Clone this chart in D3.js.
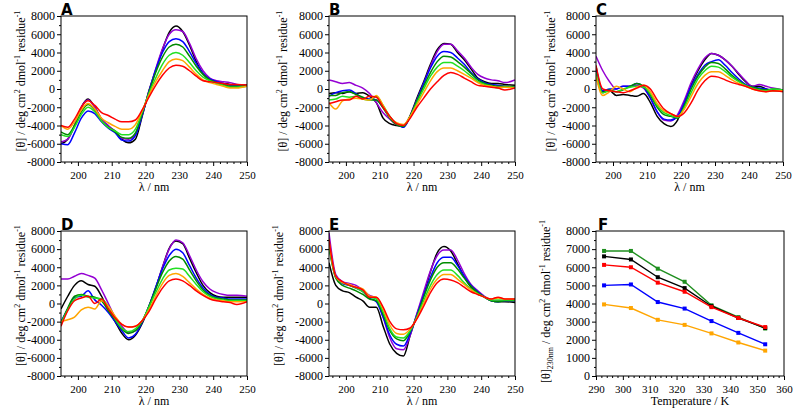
<!DOCTYPE html>
<html><head><meta charset="utf-8">
<script src="https://cdn.jsdelivr.net/npm/d3@7"></script>
<style>
body{margin:0;background:#fff}
svg{display:block}
text{font-family:"Liberation Serif","DejaVu Serif",serif;fill:#000}
text.plabel{font-family:"DejaVu Sans","Liberation Sans",sans-serif;font-weight:bold}
</style>
</head><body>
<svg id="chart" width="800" height="412"></svg>
<script>
// ---------- DATA ----------
const wavelengths = [195,197,199,201,203,205,207,209,211,213,215,217,219,221,223,225,227,229,231,233,235,237,239,241,243,245,247,250];
const temperatures = [293,303,313,323,333,343,353];
const tempColors = ["#000000","#9400d3","#0000ff","#008b00","#22e022","#ffa500","#ff0000"];

// Panel A
const A293 = [-6000,-5500,-4000,-2000,-1100,-2000,-3300,-4100,-4600,-5500,-5900,-5500,-3000,-200,2000,4300,6200,6900,6300,4800,3000,1700,1000,700,600,500,450,400];
const A303 = [-5800,-5500,-4000,-2000,-1200,-2000,-3300,-4000,-4700,-5400,-5500,-5000,-2800,-300,2200,4400,6000,6500,6300,5000,3300,2000,1200,900,800,700,500,400];
const A313 = [-6000,-6100,-4800,-3200,-2400,-2700,-3600,-4300,-4800,-5600,-5700,-5100,-2900,-300,2100,4000,5200,5500,5200,4100,2800,1700,1100,800,600,400,400,400];
const A323 = [-4700,-5000,-4000,-2500,-1700,-2300,-3500,-4200,-4700,-5300,-5400,-4800,-2700,-400,1800,3500,4600,4900,4600,3600,2500,1600,1000,700,500,300,300,400];
const A333 = [-5000,-5200,-4200,-2800,-2000,-2500,-3500,-4200,-4600,-5000,-5000,-4400,-2500,-500,1200,2700,3700,4000,3700,2900,2000,1300,900,600,400,200,200,300];
const A343 = [-4000,-4400,-3600,-2300,-1600,-2200,-3200,-3700,-4100,-4400,-4400,-3900,-2400,-700,800,2000,3000,3300,3100,2400,1600,1000,700,500,300,100,100,300];
const A353 = [-4000,-4200,-3300,-2000,-1300,-1800,-2600,-2900,-3300,-3600,-3600,-3400,-2300,-900,400,1500,2300,2600,2500,2000,1400,900,800,700,600,500,500,450];

// Panel B
const B293 = [-500,-400,-500,-300,-500,-400,-800,-1500,-3200,-3800,-4000,-4100,-2900,-1000,800,2700,4300,5000,4900,4000,3200,2200,1200,800,600,600,500,400];
const B303 = [1000,800,600,700,400,100,-500,-1500,-2600,-3300,-3900,-4000,-3000,-1200,600,2500,4100,4900,4900,4200,3400,2400,1600,1200,1000,900,700,1000];
const B313 = [-800,-400,-200,-100,-500,-1000,-1100,-1200,-2000,-3100,-3800,-4200,-3000,-1200,600,2300,3600,4100,4000,3400,2700,1800,1100,700,500,400,300,200];
const B323 = [-700,-700,-400,-300,-600,-900,-1200,-1200,-2100,-3200,-3900,-4100,-3000,-1300,300,1800,3000,3600,3500,3000,2400,1700,1000,600,400,300,300,200];
const B333 = [-1200,-1100,-800,-900,-800,-1100,-1200,-800,-1800,-3000,-3800,-4000,-3000,-1500,0,1400,2400,2900,2900,2500,2000,1400,800,500,300,100,200,200];
const B343 = [-1500,-2200,-1300,-1100,-1000,-1100,-1200,-700,-1800,-3100,-3700,-3900,-3000,-1700,-400,900,1900,2300,2300,2000,1600,1200,700,400,300,200,200,100];
const B353 = [-1600,-1400,-1200,-1200,-800,-1100,-800,-900,-2000,-3000,-3800,-4000,-3200,-2000,-1000,0,800,1500,1800,1600,1200,800,400,300,200,100,-100,100];

// Panel C
const C293 = [2500,-300,-200,-700,-600,-700,-800,-500,-1500,-3000,-3800,-4100,-3400,-1500,500,2000,3200,3900,3700,3200,2500,1600,800,300,300,0,-200,-200];
const C303 = [3600,2000,800,0,300,300,400,100,-1000,-2500,-3400,-3500,-2800,-1200,700,2200,3400,3900,3700,3200,2500,1700,900,300,500,300,100,-100];
const C313 = [2000,-200,0,0,300,300,600,200,-1000,-2500,-3300,-3400,-3000,-1500,300,1600,2600,3000,3200,2600,1800,1100,500,200,100,0,-100,-100];
const C323 = [1500,-400,-100,-300,-100,300,600,300,-700,-2000,-2800,-3000,-3200,-1800,0,1400,2400,2900,2800,2200,1500,900,400,200,0,-100,0,-100];
const C333 = [1800,-400,-200,-300,0,200,300,200,-500,-1800,-2600,-2900,-3100,-2000,-400,1100,2000,2500,2400,1900,1300,800,400,100,-100,-200,0,-100];
const C343 = [1400,-700,-300,300,0,-300,200,400,-300,-1600,-2400,-2700,-3000,-2200,-800,600,1500,1900,1900,1500,1000,600,300,0,-200,-300,-200,-200];
const C353 = [2600,0,-200,-300,-400,-200,100,400,0,-1200,-2200,-2700,-3000,-2600,-1500,-100,900,1400,1300,1000,700,500,300,0,-200,-300,-200,-300];

// Panel D
const D293 = [-600,800,2000,2500,2100,1900,800,-700,-2000,-3300,-4000,-3500,-2200,-400,1700,4000,6100,6900,6600,5000,3400,2000,1200,800,700,700,700,700];
const D303 = [2700,2700,3000,3300,3100,2800,1500,0,-1500,-2500,-3200,-3000,-2000,-300,1700,4000,6000,7000,6700,5300,3700,2400,1600,1200,1000,900,900,800];
const D313 = [-2000,-600,700,800,1400,400,-200,-1000,-2000,-3000,-3800,-3400,-2100,-300,1800,3800,5300,6000,5600,4200,2800,1700,1000,700,600,500,500,500];
const D323 = [-2200,-500,800,1000,800,700,300,-800,-1800,-2800,-3300,-3000,-2000,-300,1600,3400,4700,5200,4900,3700,2500,1500,900,600,500,400,400,400];
const D333 = [-2200,-700,500,900,700,600,500,-300,-1700,-2700,-3100,-2800,-1900,-400,1200,2700,3700,3900,3800,3000,2100,1300,800,500,400,300,300,300];
const D343 = [-2000,-1800,-1500,-700,-400,-600,300,-300,-1400,-2300,-2600,-2500,-1900,-700,800,2200,3100,3300,3000,2300,1600,1000,600,400,300,200,200,200];
const D353 = [-2500,-800,300,600,800,0,500,-600,-1600,-2300,-2600,-2500,-1900,-900,500,1700,2500,2700,2500,2000,1400,900,500,300,200,100,-100,200];

// Panel E
const E293 = [4500,2000,1400,1200,700,300,-400,-400,-2500,-4500,-5500,-5800,-3500,-1200,1000,3500,5600,6300,5800,4400,2900,1800,1200,700,300,200,200,100];
const E303 = [7800,3200,2400,2200,2000,1500,900,600,-1500,-3800,-5000,-5100,-3500,-1100,1300,3600,5300,5900,5900,4800,3300,2100,1400,800,400,300,300,300];
const E313 = [6500,3000,2200,2000,1700,1300,600,200,-1500,-3500,-4500,-4700,-3300,-1300,900,2900,4500,5100,5100,4200,3000,2000,1300,700,300,200,300,300];
const E323 = [6200,2800,2000,1700,1400,1000,500,300,-1200,-3000,-3900,-4100,-3100,-1400,700,2600,4000,4500,4500,3800,2800,1900,1200,700,300,200,300,300];
const E333 = [6500,2900,2300,2000,1700,1300,700,500,-900,-2800,-3700,-3800,-3000,-1500,300,2000,3200,3700,3700,3100,2300,1600,1100,700,400,400,400,400];
const E343 = [6800,3000,2300,2100,1800,1600,800,700,-600,-2400,-3300,-3400,-2800,-1600,0,1600,2700,3200,3200,2700,2100,1500,1000,700,500,600,500,500];
const E353 = [7100,3000,2400,2000,1800,1500,700,700,-400,-2000,-2800,-2900,-2700,-1700,-300,1200,2300,2700,2600,2300,1800,1300,1000,700,500,700,500,500];

// Panel F: [theta] at 230 nm vs temperature
const F_green  = [6900,6900,5920,5200,3900,3250,2620];
const F_black  = [6600,6430,5450,4850,3850,3200,2650];
const F_red    = [6130,6000,5150,4650,3800,3200,2700];
const F_blue   = [5000,5050,4080,3720,3030,2380,1750];
const F_orange = [3950,3750,3100,2820,2350,1850,1400];
const F_colors = ["#1f8f1f","#000000","#ff0000","#0000ff","#ffa500"];

const yTicksSpectra = [-8000,-6000,-4000,-2000,0,2000,4000,6000,8000];
const xTicksSpectra = [200,210,220,230,240,250];
const xTicksF = [290,300,310,320,330,340,350,360];
const yTicksF = [0,1000,2000,3000,4000,5000,6000,7000,8000];

// ---------- LAYOUT ----------
const svg = d3.select("#chart");
const spectraPanels = [
  {label:"A", series:[A293,A303,A313,A323,A333,A343,A353], x0:61,  x1:247, y0:16,  y1:162, tx:25},
  {label:"B", series:[B293,B303,B313,B323,B333,B343,B353], x0:329, x1:515, y0:16,  y1:162, tx:287},
  {label:"C", series:[C293,C303,C313,C323,C333,C343,C353], x0:596, x1:783, y0:16,  y1:162, tx:555},
  {label:"D", series:[D293,D303,D313,D323,D333,D343,D353], x0:61,  x1:247, y0:231, y1:376, tx:25},
  {label:"E", series:[E293,E303,E313,E323,E333,E343,E353], x0:329, x1:515, y0:231, y1:376, tx:283},
];

function yTitle(g, x, y, sub) {
  const t = g.append("text").attr("transform", `translate(${x},${y}) rotate(-90)`)
    .attr("text-anchor","middle").attr("font-size","12px");
  t.append("tspan").text("[θ]");
  if (sub) t.append("tspan").attr("font-size","8px").attr("dy","3").text(sub);
  t.append("tspan").attr("dy", sub ? "-3" : "0").text(" / deg cm");
  t.append("tspan").attr("font-size","8px").attr("dy","-5").text("2");
  t.append("tspan").attr("dy","5").text(" dmol");
  t.append("tspan").attr("font-size","8px").attr("dy","-5").text("-1");
  t.append("tspan").attr("dy","5").text(" residue");
  t.append("tspan").attr("font-size","8px").attr("dy","-5").text("-1");
}

function drawFrame(g, x, y, xMinor, yMinor, xTicks, yTicks, xTitle) {
  const [x0,x1] = x.range(); const [y1,y0] = y.range();
  g.append("g").attr("transform",`translate(0,${y1})`)
    .call(d3.axisBottom(x).tickValues(xMinor).tickSize(2).tickFormat(""))
    .call(a=>a.select(".domain").remove());
  g.append("g").attr("transform",`translate(${x0},0)`)
    .call(d3.axisLeft(y).tickValues(yMinor).tickSize(2).tickFormat(""))
    .call(a=>a.select(".domain").remove());
  const xa = g.append("g").attr("transform",`translate(0,${y1})`)
    .call(d3.axisBottom(x).tickValues(xTicks).tickSize(4).tickPadding(5).tickFormat(d=>String(d)));
  xa.attr("font-family",null);
  xa.selectAll("text").attr("font-size","11px");
  xa.select(".domain").remove();
  const ya = g.append("g").attr("transform",`translate(${x0},0)`)
    .call(d3.axisLeft(y).tickValues(yTicks).tickSize(4).tickPadding(2).tickFormat(d=>String(d)));
  ya.attr("font-family",null);
  ya.selectAll("text").attr("font-size","12px");
  ya.select(".domain").remove();
  g.append("rect").attr("x",x0).attr("y",y0).attr("width",x1-x0).attr("height",y1-y0)
    .attr("fill","none").attr("stroke","#000").attr("stroke-width",1);
  g.append("text").attr("x",(x0+x1)/2).attr("y",y1+29).attr("text-anchor","middle")
    .attr("font-size","12px").text(xTitle);
}

function panelLabel(g, x, y, s) {
  g.append("text").attr("class","plabel").attr("x",x).attr("y",y)
    .attr("font-size","15px").text(s);
}

spectraPanels.forEach(p => {
  const g = svg.append("g");
  const x = d3.scaleLinear().domain([195,250]).range([p.x0,p.x1]);
  const y = d3.scaleLinear().domain([-8000,8000]).range([p.y1,p.y0]);
  const clipId = "clip"+p.label;
  g.append("clipPath").attr("id",clipId).append("rect")
    .attr("x",p.x0).attr("y",p.y0).attr("width",p.x1-p.x0).attr("height",p.y1-p.y0);
  const line = d3.line().x((d,i)=>x(wavelengths[i])).y(d=>y(d)).curve(d3.curveMonotoneX);
  const lg = g.append("g").attr("clip-path",`url(#${clipId})`);
  p.series.forEach((s,i)=>{
    lg.append("path").datum(s).attr("d",line).attr("fill","none")
      .attr("stroke",tempColors[i]).attr("stroke-width",1.5).attr("stroke-linejoin","round");
  });
  const xMinor = d3.range(196,250,2).filter(v=>v%10!==0);
  const yMinor = d3.range(-7000,8000,2000);
  drawFrame(g, x, y, xMinor, yMinor, xTicksSpectra, yTicksSpectra, "λ / nm");
  yTitle(g, p.tx, (p.y0+p.y1)/2 - 8, null);
  panelLabel(g, p.x0, p.y0 - 1, p.label);
});

// Panel F
(function(){
  const p = {x0:596, x1:784, y0:231, y1:376};
  const g = svg.append("g");
  const x = d3.scaleLinear().domain([290,360]).range([p.x0,p.x1]);
  const y = d3.scaleLinear().domain([0,8000]).range([p.y1,p.y0]);
  const series = [F_green,F_black,F_red,F_blue,F_orange];
  const line = d3.line().x((d,i)=>x(temperatures[i])).y(d=>y(d));
  series.forEach((s,i)=>{
    g.append("path").datum(s).attr("d",line).attr("fill","none")
      .attr("stroke",F_colors[i]).attr("stroke-width",1.4);
    g.selectAll(null).data(s).enter().append("rect")
      .attr("x",(d,j)=>x(temperatures[j])-2).attr("y",d=>y(d)-2)
      .attr("width",4).attr("height",4).attr("fill",F_colors[i]);
  });
  const xMinor = d3.range(292,360,2).filter(v=>v%10!==0);
  const yMinor = d3.range(500,8000,1000);
  drawFrame(g, x, y, xMinor, yMinor, xTicksF, yTicksF, "Temperature / K");
  yTitle(g, 550, (p.y0+p.y1)/2 - 2, "230nm");
  panelLabel(g, 598, p.y0 - 1, "F");
})();
</script>
</body></html>
